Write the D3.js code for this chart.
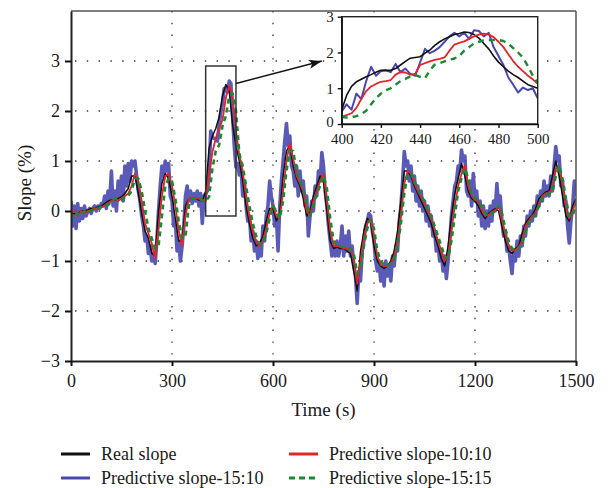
<!DOCTYPE html>
<html>
<head>
<meta charset="utf-8">
<script src="https://cdn.jsdelivr.net/npm/d3@7"></script>
<style>
body { margin: 0; background: #fff; }
text { font-family: "Liberation Serif", "DejaVu Serif", serif; fill: #1a1a1a; }
</style>
</head>
<body>
<script>
var width = 608;
var height = 488;
var serif = '"Liberation Serif", "DejaVu Serif", serif';

// main chart series, one value every 10 s (0..1500)
var timeStep = 10;
var realSlope = [
	-0.05, -0.05, -0.05, 0.0, 0.0, 0.02, 0.05, 0.05, 0.08, 0.1,
	0.15, 0.2, 0.22, 0.22, 0.25, 0.28, 0.35, 0.45, 0.7, 0.7,
	0.35, -0.05, -0.4, -0.55, -0.85, -0.9, 0.0, 0.55, 0.75, 0.65,
	0.3, -0.15, -0.6, -0.6, 0.1, 0.25, 0.25, 0.25, 0.22, 0.2,
	0.39, 1.25, 1.5, 1.65, 1.88, 2.3, 2.53, 2.4, 1.73, 1.3,
	1.0, 0.6, 0.1, -0.25, -0.55, -0.7, -0.65, -0.5, -0.2, 0.05,
	0.05, -0.2, -0.05, 0.7, 1.2, 1.3, 0.9, 0.65, 0.5, 0.25,
	-0.1, 0.0, 0.3, 0.5, 0.7, 0.6, 0.0, -0.6, -0.75, -0.72,
	-0.75, -0.75, -0.8, -0.85, -1.2, -1.6, -0.8, -0.4, -0.15, -0.2,
	-0.7, -1.0, -1.1, -1.15, -1.1, -1.0, -0.8, -0.4, 0.2, 0.8,
	0.8, 0.7, 0.5, 0.35, 0.2, 0.05, -0.1, -0.25, -0.5, -0.7,
	-0.95, -1.1, -0.7, -0.1, 0.35, 0.65, 0.95, 0.7, 0.4, 0.25,
	0.2, 0.1, -0.05, -0.15, -0.05, 0.0, 0.05, 0.0, -0.3, -0.6,
	-0.8, -0.85, -0.75, -0.7, -0.45, -0.25, -0.15, -0.08, 0.05, 0.25,
	0.32, 0.38, 0.4, 0.7, 1.0, 0.7, 0.3, -0.1, -0.2, 0.1,
	0.25
];
var pred1010 = [
	-0.05, 0.0, -0.1, 0.0, -0.05, 0.0, 0.02, 0.05, 0.05, 0.08,
	0.1, 0.15, 0.2, 0.25, 0.2, 0.25, 0.3, 0.35, 0.5, 0.75,
	0.6, 0.2, -0.25, -0.45, -0.65, -0.95, -0.35, 0.3, 0.7, 0.75,
	0.5, 0.1, -0.4, -0.7, -0.1, 0.25, 0.25, 0.25, 0.25, 0.2,
	0.2, 0.7, 1.18, 1.45, 1.65, 1.82, 2.27, 2.5, 2.3, 1.6,
	1.12, 0.8, 0.3, -0.1, -0.4, -0.6, -0.7, -0.6, -0.35, -0.05,
	0.12, -0.1, -0.15, 0.4, 1.0, 1.35, 1.05, 0.7, 0.55, 0.4,
	0.0, -0.1, 0.2, 0.4, 0.6, 0.75, 0.22, -0.38, -0.7, -0.7,
	-0.72, -0.75, -0.75, -0.75, -0.95, -1.45, -1.0, -0.55, -0.25, -0.15,
	-0.5, -0.9, -1.08, -1.1, -1.1, -1.05, -0.9, -0.6, -0.1, 0.55,
	0.8, 0.75, 0.55, 0.4, 0.28, 0.15, 0.0, -0.15, -0.35, -0.6,
	-0.8, -1.0, -0.9, -0.4, 0.1, 0.5, 0.75, 0.92, 0.5, 0.3,
	0.22, 0.19, 0.02, -0.1, -0.08, -0.02, 0.02, 0.09, -0.18, -0.45,
	-0.7, -0.8, -0.78, -0.72, -0.62, -0.3, -0.2, -0.1, -0.05, 0.15,
	0.3, 0.35, 0.38, 0.42, 0.85, 0.85, 0.55, 0.1, -0.15, 0.0,
	0.2
];
var pred1515 = [
	-0.2, -0.05, -0.05, -0.1, 0.0, -0.02, 0.0, 0.05, 0.05, 0.08,
	0.1, 0.12, 0.18, 0.25, 0.22, 0.22, 0.28, 0.3, 0.4, 0.65,
	0.65, 0.4, 0.0, -0.35, -0.55, -0.75, -0.7, -0.1, 0.5, 0.65,
	0.6, 0.25, -0.2, -0.55, -0.5, 0.1, 0.25, 0.25, 0.25, 0.22,
	0.2, 0.28, 0.85, 1.2, 1.32, 1.7, 1.9, 2.3, 2.35, 2.0,
	1.15, 0.9, 0.5, 0.1, -0.25, -0.5, -0.65, -0.65, -0.45, -0.15,
	0.1, 0.0, -0.15, 0.2, 0.8, 1.2, 1.2, 0.8, 0.6, 0.45,
	0.15, -0.1, 0.1, 0.35, 0.5, 0.7, 0.45, -0.15, -0.6, -0.68,
	-0.7, -0.72, -0.72, -0.75, -0.85, -1.25, -1.15, -0.7, -0.35, -0.18,
	-0.35, -0.8, -1.0, -1.08, -1.1, -1.05, -0.95, -0.7, -0.25, 0.35,
	0.75, 0.75, 0.6, 0.45, 0.3, 0.2, 0.05, -0.1, -0.3, -0.5,
	-0.7, -0.9, -0.95, -0.6, -0.1, 0.4, 0.65, 0.85, 0.65, 0.35,
	0.25, 0.2, 0.1, -0.05, -0.1, -0.05, 0.0, 0.1, -0.05, -0.35,
	-0.6, -0.75, -0.78, -0.75, -0.65, -0.4, -0.25, -0.12, -0.08, 0.1,
	0.25, 0.32, 0.35, 0.38, 0.7, 0.9, 0.65, 0.25, -0.1, -0.1,
	0.15
];
// the noisy 15:10 prediction, one value every 5 s
var noisyStep = 5;
var pred1510 = [
	0.2, -0.3, 0.1, -0.35, 0.15, -0.2, 0.05, -0.15, 0.1, -0.1,
	0.0, 0.05, -0.05, 0.05, 0.1, 0.0, 0.1, 0.05, 0.15, 0.1,
	0.3, 0.05, 0.4, 0.2, 0.8, 0.1, 0.4, 0.0, 0.6, 0.3,
	0.7, 0.2, 0.9, 0.5, 0.95, 0.6, 1.0, 0.9, 1.0, 0.7,
	0.4, 0.2, -0.1, -0.3, -0.6, -0.5, -0.85, -0.7, -1.0, -0.85,
	-1.05, -0.6, 0.0, 0.5, 0.9, 0.7, 1.0, 0.8, 0.95, 0.3,
	0.2, -0.3, -0.2, -0.8, -0.6, -1.0, -0.7, -0.3, 0.3, 0.5,
	0.2, 0.4, 0.15, 0.35, 0.2, 0.4, 0.1, 0.35, -0.25, 0.3,
	0.35, 0.4, 0.7, 1.6, 1.48, 1.45, 1.45, 1.4, 1.72, 1.98,
	2.15, 2.45, 2.45, 2.38, 2.6, 2.55, 1.9, 1.3, 0.88, 0.95,
	0.72, 0.9, 0.3, 0.6, 0.1, -0.2, -0.1, -0.6, -0.4, -0.8,
	-0.6, -0.95, -0.7, -0.9, -0.3, -0.6, -0.1, 0.1, 0.6, 0.3,
	0.1, -0.3, -0.1, -0.8, 0.1, 0.6, 1.0, 1.4, 1.75, 1.3,
	1.5, 0.9, 0.8, 0.5, 0.9, 0.3, 0.8, 0.4, 0.6, 0.1,
	0.3, -0.5, -0.1, 0.2, 0.0, 0.5, 0.3, 0.8, 0.6, 1.17,
	0.9, 0.4, 0.1, -0.3, -0.6, -0.9, -0.7, -0.9, -0.6, -0.9,
	-0.7, -0.3, -0.9, -0.5, -0.8, -0.4, -0.9, -0.7, -1.1, -1.3,
	-1.85, -1.2, -1.4, -0.8, -0.6, -0.3, -0.2, -0.05, -0.1, -0.4,
	-0.6, -1.0, -1.2, -1.0, -1.4, -1.1, -1.5, -1.0, -1.3, -1.1,
	-1.4, -0.9, -1.1, -0.7, -0.8, -0.2, 0.1, 0.6, 1.19, 0.9,
	1.0, 0.6, 0.9, 0.4, 0.7, 0.2, 0.5, 0.1, 0.4, 0.0,
	0.2, -0.2, 0.1, -0.3, -0.1, -0.5, -0.4, -0.8, -0.6, -1.0,
	-0.8, -1.2, -0.9, -1.35, -1.0, -0.6, -0.1, 0.2, 0.5, 0.6,
	0.9, 0.8, 1.22, 1.0, 1.1, 0.4, 0.3, 0.6, 0.1, 0.75,
	0.2, 0.4, -0.1, 0.2, -0.3, 0.1, -0.35, 0.0, -0.3, 0.1,
	-0.2, 0.2, 0.0, 0.55, 0.1, 0.3, -0.2, -0.5, -0.4, -0.8,
	-0.7, -1.0, -1.25, -0.8, -1.0, -0.6, -0.9, -0.5, -0.7, -0.3,
	-0.5, -0.1, -0.3, 0.0, -0.2, 0.1, -0.1, 0.3, 0.1, 0.4,
	0.2, 0.6, 0.3, 0.5, 0.3, 0.7, 0.4, 0.9, 1.29, 1.0,
	1.1, 0.5, 0.6, 0.1, 0.2, -0.3, -0.64, -0.2, 0.1, 0.6,
	0.3
];

// zoomed inset, 400..500 s, one value every 2.5 s
var insetStart = 400;
var insetStep = 2.5;
var insetReal = [
	0.39, 0.8, 1.05, 1.18, 1.25, 1.32, 1.38, 1.45, 1.5, 1.5,
	1.5, 1.55, 1.65, 1.75, 1.84, 1.86, 1.88, 1.98, 2.07, 2.2,
	2.3, 2.38, 2.44, 2.5, 2.53, 2.57, 2.56, 2.5, 2.4, 2.25,
	2.1, 1.9, 1.73, 1.6, 1.48, 1.38, 1.3, 1.2, 1.1, 1.05,
	1.0
];
var inset1010 = [
	0.2, 0.25, 0.3, 0.45, 0.7, 0.92, 1.05, 1.12, 1.18, 1.2,
	1.23, 1.38, 1.45, 1.44, 1.38, 1.4, 1.65, 1.7, 1.75, 1.79,
	1.82, 1.86, 2.05, 2.22, 2.27, 2.31, 2.38, 2.45, 2.5, 2.53,
	2.5, 2.43, 2.3, 2.15, 1.95, 1.76, 1.6, 1.48, 1.35, 1.25,
	1.12
];
var inset1510 = [
	0.35, 0.55, 0.4, 0.85, 0.7, 1.2, 1.6, 1.35, 1.48, 1.5,
	1.45, 1.68, 1.45, 1.55, 1.4, 1.35, 1.72, 2.1, 1.98, 2.05,
	2.15, 2.3, 2.45, 2.55, 2.45, 2.55, 2.38, 2.62, 2.6, 2.45,
	2.55, 2.15, 1.9, 1.65, 1.3, 1.1, 0.88, 1.02, 0.95, 1.0,
	0.72
];
var inset1515 = [
	0.2, 0.18, 0.19, 0.22, 0.28, 0.37, 0.55, 0.72, 0.85, 0.94,
	1.0, 1.1, 1.2, 1.26, 1.33, 1.37, 1.32, 1.28, 1.5, 1.66,
	1.7, 1.75, 1.8, 1.83, 1.9, 2.05, 2.15, 2.25, 2.3, 2.34,
	2.35, 2.35, 2.35, 2.32, 2.25, 2.12, 2.0, 1.85, 1.62, 1.35,
	1.15
];

var xTicks = [0, 300, 600, 900, 1200, 1500];
var yTicks = [-3, -2, -1, 0, 1, 2, 3];
var insetXTicks = [400, 420, 440, 460, 480, 500];
var insetYTicks = [0, 1, 2, 3];
var zoomWindow = [400, 490, -0.1, 2.9]; // t0, t1, v0, v1 of the marked box
var arrowFrom = [490, 2.55];
var arrowTo = [745, 3.0];
var legendLabels = ["Real slope", "Predictive slope-10:10", "Predictive slope-15:10", "Predictive slope-15:15"];

var colBlack = "#111111";
var colRed = "#e3242b";
var colBlue = "#4848b0";
var colGreen = "#1b8a2e";

var svg = d3.select("body")
	.append("svg")
	.attr("width", width)
	.attr("height", height);

var defs = svg.append("defs");
defs.append("clipPath").attr("id", "mainClip")
	.append("rect").attr("x", 71).attr("y", 11).attr("width", 505).attr("height", 350);
defs.append("clipPath").attr("id", "insetClip")
	.append("rect").attr("x", 341.7).attr("y", 16.7).attr("width", 196).attr("height", 107.3);
defs.append("marker")
	.attr("id", "arrowHead")
	.attr("markerUnits", "userSpaceOnUse")
	.attr("viewBox", "0 0 13 9")
	.attr("refX", 13).attr("refY", 4.5)
	.attr("markerWidth", 13).attr("markerHeight", 9)
	.attr("orient", "auto")
	.append("path")
	.attr("d", "M0,0 L13,4.5 L0,9 L3,4.5 Z")
	.attr("fill", "#111");

var x = d3.scaleLinear().domain([0, 1500]).range([71, 576]);
var y = d3.scaleLinear().domain([-3, 4]).range([361, 11]);

function minusFormat(d) {
	return d < 0 ? "\u2212" + Math.abs(d) : "" + d;
}

// dotted grid
var grid = svg.append("g");
grid.selectAll("line.vgrid")
	.data(xTicks.slice(1, -1))
	.enter().append("line")
	.attr("x1", function(d){ return x(d); })
	.attr("x2", function(d){ return x(d); })
	.attr("y1", y(4)).attr("y2", y(-3))
	.attr("stroke", "#333").attr("stroke-width", 1.3)
	.attr("stroke-dasharray", "1.4,10.4");
grid.selectAll("line.hgrid")
	.data(yTicks.slice(1))
	.enter().append("line")
	.attr("y1", function(d){ return y(d); })
	.attr("y2", function(d){ return y(d); })
	.attr("x1", x(0) + 4).attr("x2", x(1500))
	.attr("stroke", "#333").attr("stroke-width", 1.3)
	.attr("stroke-dasharray", "1.4,10.4");

// series
function drawSeries(g, values, step, start, xs, ys, color, w, dash) {
	var line = d3.line()
		.x(function(d, i){ return xs(start + i * step); })
		.y(function(d){ return ys(d); });
	var p = g.append("path")
		.datum(values)
		.attr("d", line)
		.attr("fill", "none")
		.attr("stroke", color)
		.attr("stroke-width", w)
		.attr("stroke-linejoin", "round");
	if (dash) p.attr("stroke-dasharray", dash);
	return p;
}

var plot = svg.append("g").attr("clip-path", "url(#mainClip)");
drawSeries(plot, pred1510, noisyStep, 0, x, y, colBlue, 3.6, null).attr("stroke-opacity", 0.9);
drawSeries(plot, realSlope, timeStep, 0, x, y, colBlack, 1.5, null);
drawSeries(plot, pred1010, timeStep, 0, x, y, colRed, 1.8, null);
drawSeries(plot, pred1515, timeStep, 0, x, y, colGreen, 2.6, "5,4");

// marked window
svg.append("rect")
	.attr("x", x(zoomWindow[0]))
	.attr("y", y(zoomWindow[3]))
	.attr("width", x(zoomWindow[1]) - x(zoomWindow[0]))
	.attr("height", y(zoomWindow[2]) - y(zoomWindow[3]))
	.attr("fill", "none")
	.attr("stroke", "#333")
	.attr("stroke-width", 1.5);

// frame: top and right in grey, axes in black
svg.append("line").attr("x1", x(0)).attr("x2", x(1500)).attr("y1", y(4)).attr("y2", y(4))
	.attr("stroke", "#555").attr("stroke-width", 1.5);
svg.append("line").attr("x1", x(1500)).attr("x2", x(1500)).attr("y1", y(4)).attr("y2", y(-3))
	.attr("stroke", "#555").attr("stroke-width", 1.5);

var xAxis = svg.append("g")
	.attr("transform", "translate(0," + y(-3) + ")")
	.call(d3.axisBottom(x).tickValues(xTicks).tickFormat(d3.format("d")).tickSize(5).tickSizeOuter(0).tickPadding(8));
var yAxis = svg.append("g")
	.attr("transform", "translate(" + x(0) + ",0)")
	.call(d3.axisLeft(y).tickValues(yTicks).tickSize(6).tickSizeOuter(0).tickPadding(5).tickFormat(minusFormat));
[xAxis, yAxis].forEach(function(a){
	a.attr("font-family", serif);
	a.select(".domain").attr("stroke", "#222").attr("stroke-width", 2);
	a.selectAll(".tick line").attr("stroke", "#111").attr("stroke-width", 2);
	a.selectAll(".tick text").style("font-family", serif).style("font-size", "18px").attr("fill", "#1a1a1a");
});

svg.append("text")
	.attr("x", (x(0) + x(1500)) / 2)
	.attr("y", 416)
	.attr("text-anchor", "middle")
	.style("font-family", serif)
	.style("font-size", "19px")
	.text("Time (s)");
svg.append("text")
	.attr("transform", "translate(31," + 183 + ") rotate(-90)")
	.attr("text-anchor", "middle")
	.style("font-family", serif)
	.style("font-size", "19px")
	.text("Slope (%)");

// arrow to the inset
svg.append("line")
	.attr("x1", x(arrowFrom[0])).attr("y1", y(arrowFrom[1]))
	.attr("x2", x(arrowTo[0])).attr("y2", y(arrowTo[1]))
	.attr("stroke", "#111").attr("stroke-width", 1.3)
	.attr("marker-end", "url(#arrowHead)");

// inset
var ix = d3.scaleLinear().domain([400, 500]).range([341.7, 537.7]);
var iy = d3.scaleLinear().domain([0, 3]).range([124, 16.7]);
svg.append("rect")
	.attr("x", ix(400)).attr("y", iy(3))
	.attr("width", ix(500) - ix(400)).attr("height", iy(0) - iy(3))
	.attr("fill", "#fff");
var inset = svg.append("g").attr("clip-path", "url(#insetClip)");
drawSeries(inset, inset1510, insetStep, insetStart, ix, iy, colBlue, 2, null);
drawSeries(inset, insetReal, insetStep, insetStart, ix, iy, colBlack, 1.6, null);
drawSeries(inset, inset1010, insetStep, insetStart, ix, iy, colRed, 1.8, null);
drawSeries(inset, inset1515, insetStep, insetStart, ix, iy, colGreen, 2.4, "6,5");
svg.append("rect")
	.attr("x", ix(400)).attr("y", iy(3))
	.attr("width", ix(500) - ix(400)).attr("height", iy(0) - iy(3))
	.attr("fill", "none").attr("stroke", "#222").attr("stroke-width", 1.4);
var ixAxis = svg.append("g")
	.attr("transform", "translate(0," + iy(0) + ")")
	.call(d3.axisBottom(ix).tickValues(insetXTicks).tickFormat(d3.format("d")).tickSize(4).tickSizeOuter(0).tickPadding(5));
var iyAxis = svg.append("g")
	.attr("transform", "translate(" + ix(400) + ",0)")
	.call(d3.axisLeft(iy).tickValues(insetYTicks).tickFormat(d3.format("d")).tickSize(4).tickSizeOuter(0).tickPadding(4));
[ixAxis, iyAxis].forEach(function(a){
	a.attr("font-family", serif);
	a.select(".domain").attr("stroke", "#111").attr("stroke-width", 1.4);
	a.selectAll(".tick line").attr("stroke", "#111").attr("stroke-width", 1.4);
	a.selectAll(".tick text").style("font-family", serif).style("font-size", "15px").attr("fill", "#1a1a1a");
});
// keep the lowest y label clear of the "400" label
iyAxis.selectAll(".tick text").filter(function(d){ return d === 0; }).attr("dy", "0.15em");

// legend
var legendColors = [colBlack, colRed, colBlue, colGreen];
var legendDash = [null, null, null, "6,4"];
var legend = svg.append("g");
legendLabels.forEach(function(label, i){
	var col = i % 2, row = Math.floor(i / 2);
	var lx = col === 0 ? 61 : 289;
	var ly = row === 0 ? 454 : 478;
	var l = legend.append("line")
		.attr("x1", lx).attr("x2", lx + 29)
		.attr("y1", ly).attr("y2", ly)
		.attr("stroke", legendColors[i]).attr("stroke-width", 3);
	if (legendDash[i]) l.attr("stroke-dasharray", legendDash[i]);
	legend.append("text")
		.attr("x", lx + 40).attr("y", ly + 6)
		.style("font-family", serif)
		.style("font-size", "18px")
		.text(label);
});
</script>
</body>
</html>
